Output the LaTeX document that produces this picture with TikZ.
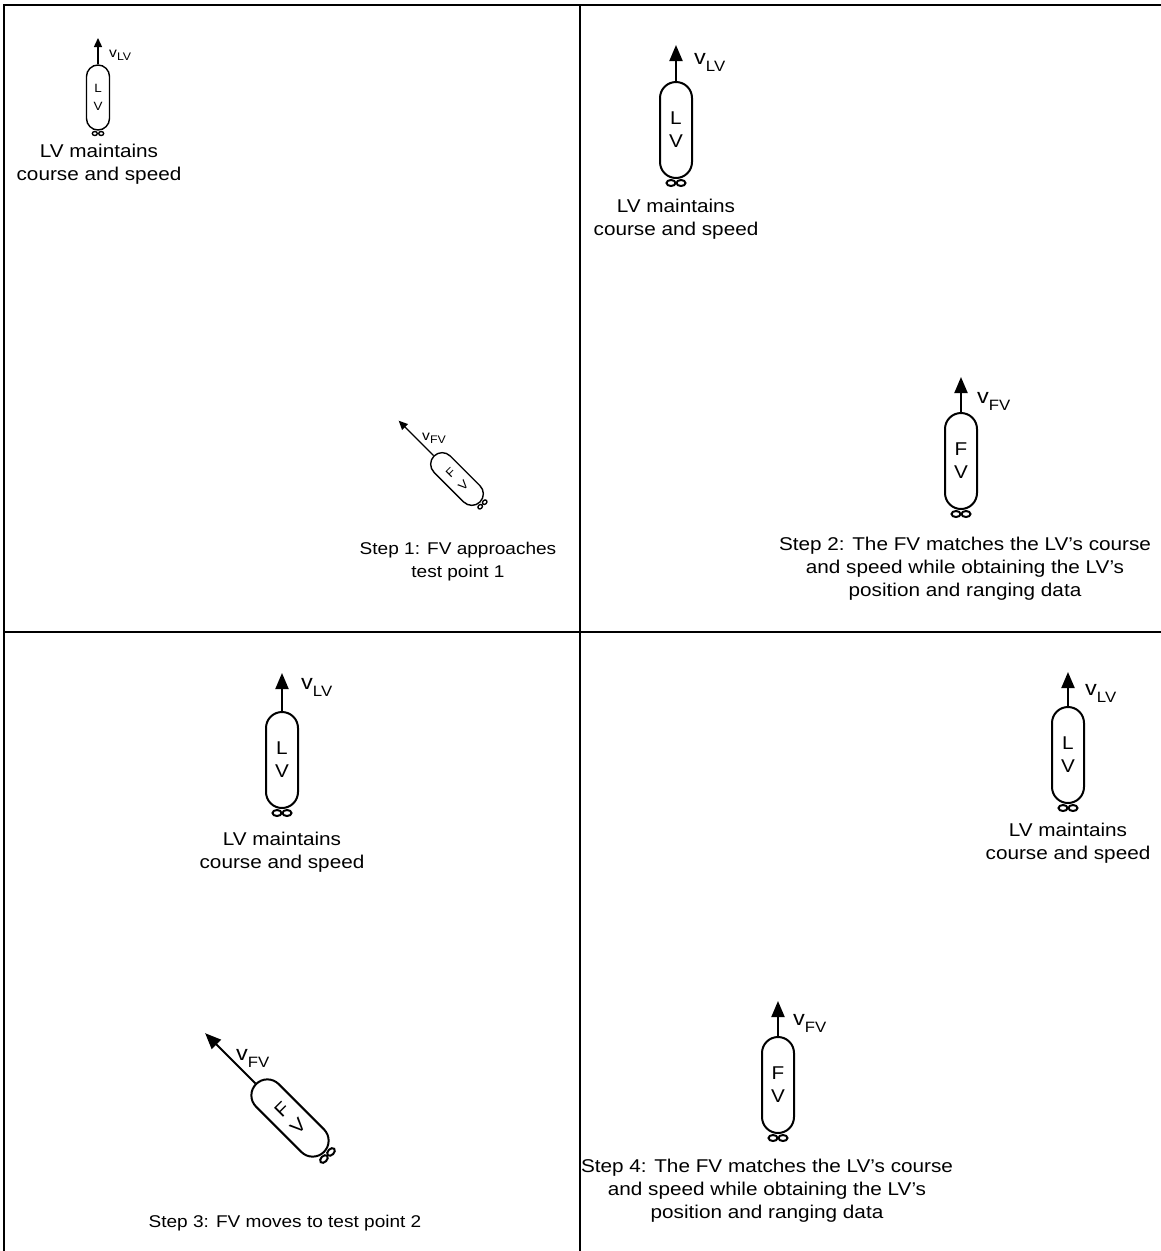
\documentclass[tikz,border=0pt]{standalone}
\usepackage{fontspec}
\setmainfont[FakeStretch=1.12]{Liberation Sans}
\usetikzlibrary{arrows.meta,shapes.geometric}

\tikzset{
 frame/.style={line width=1.6pt},
 capbig/.style={draw, line width=2pt, rectangle, rounded corners=16pt, minimum width=32pt, minimum height=96pt, inner sep=0pt, align=center, font=\fontsize{18.5}{23}\selectfont},
 capsmall/.style={draw, line width=1.4pt, rectangle, rounded corners=11.5pt, minimum width=23pt, minimum height=65pt, inner sep=0pt, align=center, font=\fontsize{12}{18}\selectfont},
 propbig/.style={draw, ellipse, line width=2pt, minimum width=9pt, minimum height=6pt, inner sep=0pt},
 propsmall/.style={draw, ellipse, line width=1.4pt, minimum width=5pt, minimum height=4pt, inner sep=0pt},
 velbig/.style={line width=2pt, -{Triangle[width=13pt,length=16pt]}},
 velsmall/.style={line width=1.4pt, -{Triangle[width=8pt,length=9pt]}},
 caption/.style={align=center, inner sep=0pt, font=\fontsize{18.5}{23}\selectfont},
 vlab/.style={inner sep=0pt, anchor=base west},
}
\def\pdxbig{5}\def\pdybig{53}\def\hhbig{48}
\def\pdxsmall{3.2}\def\pdysmall{36}\def\hhsmall{32.5}

\newcommand\vessel[7]{%
 \begin{scope}[shift={(#2,#3)}, rotate=#4]
 \node[cap#5, transform shape] (#1) at (0,0) {#6};
 \node[prop#5, transform shape] (#1-pl) at (-\csname pdx#5\endcsname, \csname pdy#5\endcsname) {};
 \node[prop#5, transform shape] (#1-pr) at (\csname pdx#5\endcsname, \csname pdy#5\endcsname) {};
 \coordinate (#1-tip) at (0, -\csname hh#5\endcsname - #7);
 \draw[vel#5] (#1.north) -- (#1-tip);
 \end{scope}}

\newcommand\vlbig[4]{\node[vlab] (#1) at (#2,#3) {\fontsize{21}{21}\selectfont v\raisebox{-7pt}{\fontsize{15}{15}\selectfont #4}};}
\newcommand\vlsmall[4]{\node[vlab] (#1) at (#2,#3) {\fontsize{14}{14}\selectfont v\raisebox{-3pt}{\fontsize{11}{11}\selectfont #4}};}

\begin{document}
\begin{tikzpicture}[x=1pt,y=-1pt]
\clip (0,0) rectangle (1161,1251);
\fill[white] (0,0) rectangle (1161,1251);
% frame
\draw[frame] (4,5) rectangle (1170,1260);
\draw[frame] (580,5) -- (580,1260);
\draw[frame] (4,632) -- (1170,632);

% vessels
\vessel{lv1}{98}{97.5}{0}{small}{L\\V}{27}
\vessel{fv1}{457}{479}{45}{small}{F\\V}{50}
\vessel{lv2}{676}{130}{0}{big}{L\\V}{37}
\vessel{fv2}{961}{461}{0}{big}{F\\V}{36}
\vessel{lv3}{282}{760}{0}{big}{L\\V}{39}
\vessel{fv3}{290}{1118}{45}{big}{F\\V}{72}
\vessel{lv4}{1068}{755}{0}{big}{L\\V}{35}
\vessel{fv4}{778}{1085}{0}{big}{F\\V}{36}

% velocity labels
\vlsmall{vl1}{109}{57}{LV}
\vlsmall{vf1}{422}{440}{FV}
\vlbig{vl2}{694}{64}{LV}
\vlbig{vf2}{977}{403}{FV}
\vlbig{vl3}{301}{689}{LV}
\vlbig{vf3}{236}{1060}{FV}
\vlbig{vl4}{1085}{695}{LV}
\vlbig{vf4}{793}{1025}{FV}

% captions
\node[caption] (c1a) at (99,164) {LV maintains\\course and speed};
\node[caption, font=\fontsize{17}{23}\selectfont] (c1b) at (458,562) {Step 1: FV approaches\\test point 1};
\node[caption] (c2a) at (676,219) {LV maintains\\course and speed};
\node[caption] (c2b) at (965,569) {Step 2: The FV matches the LV’s course\\and speed while obtaining the LV’s\\position and ranging data};
\node[caption] (c3a) at (282,852) {LV maintains\\course and speed};
\node[caption, font=\fontsize{17}{23}\selectfont] (c3b) at (285,1223) {Step 3: FV moves to test point 2};
\node[caption] (c4a) at (1068,843) {LV maintains\\course and speed};
\node[caption] (c4b) at (767,1191) {Step 4: The FV matches the LV’s course\\and speed while obtaining the LV’s\\position and ranging data};
\end{tikzpicture}
\end{document}
